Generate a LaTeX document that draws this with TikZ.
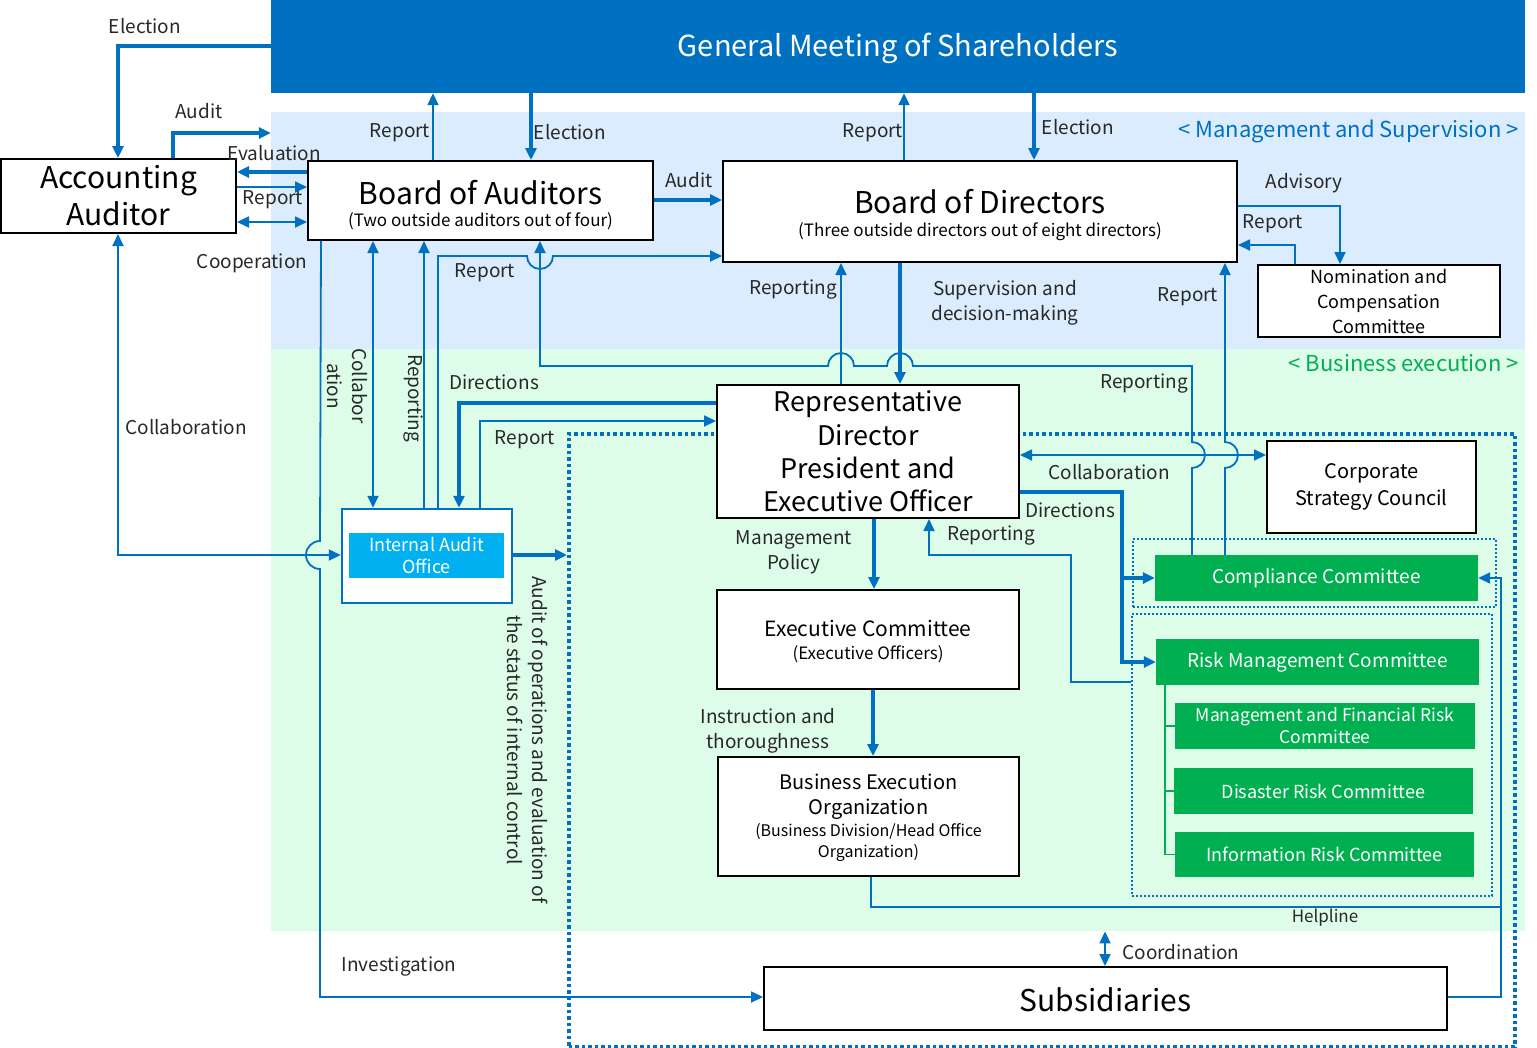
\documentclass[tikz,border=0pt]{standalone}
\usepackage{fontspec}
\setmainfont{Noto Sans CJK JP}
\usetikzlibrary{arrows.meta}
\definecolor{cblue}{RGB}{0,112,192}
\definecolor{cgreen}{RGB}{0,176,80}
\definecolor{ccyan}{RGB}{0,176,240}
\definecolor{bandblue}{RGB}{218,236,254}
\definecolor{bandgreen}{RGB}{222,253,233}
\definecolor{txt}{RGB}{40,40,40}
\newcommand{\fsz}[2]{\fontsize{#1}{#2}\selectfont}
\pgfdeclarelayer{bg}
\pgfsetlayers{bg,main}
\tikzset{
  box/.style={draw=black, line width=2pt, fill=white, inner sep=0pt, align=center, text=black},
  gbox/.style={fill=cgreen, inner sep=0pt, align=center, text=white, font=\fsz{19}{23}},
  lbl/.style={inner sep=0pt, text=txt, font=\fsz{19}{25}, align=center},
  ttl/.style={inner sep=0pt, text=black, align=center},
  thn/.style={draw=cblue, line width=1.8pt},
  thk/.style={draw=cblue, line width=3.6pt},
  tip/.style={-{Triangle[length=12pt,width=11pt]}},
  dtip/.style={{Triangle[length=12pt,width=11pt]}-{Triangle[length=12pt,width=11pt]}},
  bigdots/.style={draw=cblue, line width=3.5pt, dash pattern=on 3.5pt off 3pt},
  smalldots/.style={draw=cblue, line width=2pt, dash pattern=on 2pt off 2pt},
}
\begin{document}
\begin{tikzpicture}[x=1pt,y=-1pt]
\useasboundingbox (0,0) rectangle (1537,1047);
\begin{pgfonlayer}{bg}
\fill[white] (0,0) rectangle (1537,1047);
\node[fill=bandblue, minimum width=1254, minimum height=237, inner sep=0, anchor=north west] (mgmtband) at (271,112) {};
\node[fill=bandgreen, minimum width=1254, minimum height=582, inner sep=0, anchor=north west] (execband) at (271,349) {};
\node[bigdots, minimum width=946, minimum height=613, inner sep=0, anchor=north west] (bigdot) at (567,432) {};
\node[smalldots, minimum width=363, minimum height=68, inner sep=0, anchor=north west] (ccdot) at (1132,538) {};
\node[smalldots, minimum width=360, minimum height=282, inner sep=0, anchor=north west] (riskdot) at (1131,613) {};
\end{pgfonlayer}

% section titles
\node[inner sep=0, anchor=east, text=cblue, font=\fsz{22}{26}] (mgmttitle) at (1519,131) {< Management and Supervision >};
\node[inner sep=0, anchor=east, text=cgreen, font=\fsz{22}{26}] (exectitle) at (1519,363) {< Business execution >};

% nodes
\node[fill=cblue, minimum width=1254, minimum height=93, inner sep=0] (gm) at (898,46.5) {};
\node[inner sep=0, text=white, font=\fsz{29}{34}] (gmt) at (898,48) {General Meeting of Shareholders};
\node[box, minimum width=235, minimum height=74, font=\fsz{30}{37}] (aa) at (118.5,196) {Accounting\\Auditor};
\node[box, minimum width=345, minimum height=79] (boa) at (480.5,200.5) {};
\node[ttl, font=\fsz{30}{36}] (boat) at (480.5,193) {Board of Auditors};
\node[ttl, font=\fsz{17}{20}] (boas) at (480.5,221) {(Two outside auditors out of four)};
\node[box, minimum width=514, minimum height=101] (bod) at (980,211.5) {};
\node[ttl, font=\fsz{30}{36}] (bodt) at (980,202) {Board of Directors};
\node[ttl, font=\fsz{17}{20}] (bods) at (980,232) {(Three outside directors out of eight directors)};
\node[box, minimum width=242, minimum height=72, font=\fsz{18}{25}] (ncc) at (1379,301) {Nomination and\\Compensation\\Committee};
\node[box, minimum width=302, minimum height=133, font=\fsz{27}{33.3}] (rd) at (868,451.5) {Representative\\Director\\President and\\Executive Officer};
\node[draw=cblue, line width=2.5pt, fill=white, minimum width=170, minimum height=94, inner sep=0] (iao) at (427,556) {};
\node[fill=ccyan, minimum width=155, minimum height=45, text=white, font=\fsz{18}{22}, align=center, inner sep=0] (iaoin) at (426.5,555.5) {Internal Audit\\Office};
\node[box, minimum width=209, minimum height=92, font=\fsz{20}{27}] (csc) at (1371.5,487) {Corporate\\Strategy Council};
\node[box, minimum width=302, minimum height=99] (ec) at (868,639.5) {};
\node[ttl, font=\fsz{21}{25}] (ect) at (868,628) {Executive Committee};
\node[ttl, font=\fsz{17}{20}] (ecs) at (868,654) {(Executive Officers)};
\node[box, minimum width=301, minimum height=119] (beo) at (868.5,816.5) {};
\node[ttl, font=\fsz{20}{25}] (beot) at (868.5,797) {Business Execution\\Organization};
\node[ttl, font=\fsz{16}{21}] (beos) at (868.5,842) {(Business Division/Head Office\\Organization)};
\node[box, minimum width=683, minimum height=63] (sub) at (1105.5,998.5) {};
\node[ttl, font=\fsz{30}{36}] (subt) at (1105.5,1000) {Subsidiaries};
\node[gbox, minimum width=323, minimum height=46] (cc) at (1316.5,578) {Compliance Committee};
\node[gbox, minimum width=323, minimum height=46] (rmc) at (1317.5,662) {Risk Management Committee};
\node[gbox, minimum width=300, minimum height=46, font=\fsz{17.5}{22}] (mfrc) at (1325,726) {Management and Financial Risk\\Committee};
\node[gbox, minimum width=299, minimum height=46, font=\fsz{18}{22}] (drc) at (1323.5,791) {Disaster Risk Committee};
\node[gbox, minimum width=299, minimum height=45, font=\fsz{18}{22}] (irc) at (1324.5,854.5) {Information Risk Committee};

% green tree
\draw[cgreen, line width=1.8pt] (1165,0 |- rmc.south) |- (irc.west);
\draw[cgreen, line width=1.8pt] (1165,0 |- mfrc.west) -- (mfrc.west);
\draw[cgreen, line width=1.8pt] (1165,0 |- drc.west) -- (drc.west);

% connectors: top left
\draw[thk, tip] (gm.west |- 0,46) -| (118,0 |- aa.north);
\draw[thk, tip] (173,0 |- aa.north) |- (gm.west |- 0,133);
\draw[thk, tip] (boa.west |- 0,172) -- (aa.east |- 0,172);
\draw[thn, tip] (aa.east |- 0,187) -- (boa.west |- 0,187);
\draw[thn, dtip] (aa.east |- 0,222) -- (boa.west |- 0,222);
\draw[thn, tip] (433,0 |- boa.north) -- (433,0 |- gm.south);
\draw[thk, tip] (531,0 |- gm.south) -- (531,0 |- boa.north);
\draw[thk, tip] (boa.east |- 0,200) -- (bod.west |- 0,200);
\draw[thn, tip] (904,0 |- bod.north) -- (904,0 |- gm.south);
\draw[thk, tip] (1034,0 |- gm.south) -- (1034,0 |- bod.north);
\draw[thn, tip] (bod.east |- 0,206) -| (1340,0 |- ncc.north);
\draw[thn, tip] (1295,0 |- ncc.north) |- (bod.east |- 0,245);
\draw[thn, tip] (841,0 |- rd.north) -- (841,0 |- bod.south);
\draw[thk, tip] (900,0 |- bod.south) -- (900,0 |- rd.north);

% compliance -> board of auditors (with hops)
\draw[thn, tip] (1192,0 |- cc.north) -- (1192,468) arc[start angle=90, end angle=-90, radius=13]
  -- (1192,366) -- (913,366) arc[start angle=0, end angle=-180, radius=13]
  -- (854,366) arc[start angle=0, end angle=-180, radius=13]
  -- (540,366) -- (540,0 |- boa.south);
% compliance -> board of directors
\draw[thn, tip] (1225,0 |- cc.north) -- (1225,468) arc[start angle=90, end angle=-90, radius=13]
  -- (1225,0 |- bod.south);

% collaboration with strategy council
\draw[thn, dtip] (rd.east |- 0,455) -- (csc.west |- 0,455);
% directions to committees
\draw[thk, tip] (rd.east |- 0,492) -| (1122,0 |- cc.west) -- (cc.west);
\draw[thk, tip] (1122,0 |- cc.west) |- (rmc.west);
% reporting from risk
\draw[thn, tip] (riskdot.west |- 0,682) -| (1071,555) -| (929,0 |- rd.south);
% management policy / instruction
\draw[thk, tip] (874,0 |- rd.south) -- (874,0 |- ec.north);
\draw[thk, tip] (873,0 |- ec.south) -- (873,0 |- beo.north);
% helpline
\draw[thn, tip] (871,0 |- beo.south) |- (1501,907) |- (cc.east);
\draw[thn] (sub.east |- 0,997) -| (1501,907);
% coordination
\draw[thn, dtip] (1105,0 |- execband.south) -- (1105,0 |- sub.north);

% internal audit office connectors
\draw[thn, tip] (321,0 |- boa.south) -- (320,541) arc[start angle=270, end angle=90, radius=14]
  |- (sub.west |- 0,997);
\draw[thn, dtip] (118,0 |- aa.south) |- (iao.west |- 0,555);
\draw[thn, dtip] (373,0 |- boa.south) -- (373,0 |- iao.north);
\draw[thn, tip] (424,0 |- iao.north) -- (424,0 |- boa.south);
\draw[thn, tip] (438,0 |- iao.north) -- (438,256) -- (527,256) arc[start angle=180, end angle=0, radius=13]
  -- (bod.west |- 0,256);
\draw[thk, tip] (rd.west |- 0,403) -| (459,0 |- iao.north);
\draw[thn, tip] (480,0 |- iao.north) |- (rd.west |- 0,421);
\draw[thk, tip] (iao.east |- 0,555) -- (bigdot.west |- 0,555);

% labels
\node[lbl] (l1) at (145,26) {Election};
\node[lbl] (l2) at (199,111) {Audit};
\node[lbl] (l3) at (274,153) {Evaluation};
\node[lbl] (l4) at (273,200) {Report};
\node[lbl] (l5) at (252,263) {Cooperation};
\node[lbl] (l6) at (400,133) {Report};
\node[lbl] (l7) at (570,132) {Election};
\node[lbl] (l8) at (689,180) {Audit};
\node[lbl] (l9) at (873,133) {Report};
\node[lbl] (l10) at (1078,127) {Election};
\node[lbl] (l11) at (1304,183) {Advisory};
\node[lbl] (l12) at (1273,224) {Report};
\node[lbl] (l13) at (793,290) {Reporting};
\node[lbl] (l14) at (1005,303) {Supervision and\\decision-making};
\node[lbl] (l15) at (1188,297) {Report};
\node[lbl] (l16) at (485,273) {Report};
\node[lbl] (l17) at (186,427) {Collaboration};
\node[lbl] (l18) at (494,382) {Directions};
\node[lbl] (l19) at (525,440) {Report};
\node[lbl] (l20) at (1144,384) {Reporting};
\node[lbl] (l21) at (1109,472) {Collaboration};
\node[lbl] (l22) at (1070,510) {Directions};
\node[lbl] (l23) at (991,536) {Reporting};
\node[lbl] (l24) at (794,552) {Management\\Policy};
\node[lbl] (l25) at (768,731) {Instruction and\\thoroughness};
\node[lbl, font=\fsz{17}{21}] (l26) at (1325,918) {Helpline};
\node[lbl] (l27) at (1181,952) {Coordination};
\node[lbl] (l28) at (399,966) {Investigation};
\node[lbl, rotate=-90] (l29) at (347,386) {Collabor\\ation};
\node[lbl, rotate=-90] (l30) at (413,398) {Reporting};
\node[lbl, rotate=-90] (l31) at (528,740) {Audit of operations and evaluation of\\the status of internal control};
\end{tikzpicture}
\end{document}
